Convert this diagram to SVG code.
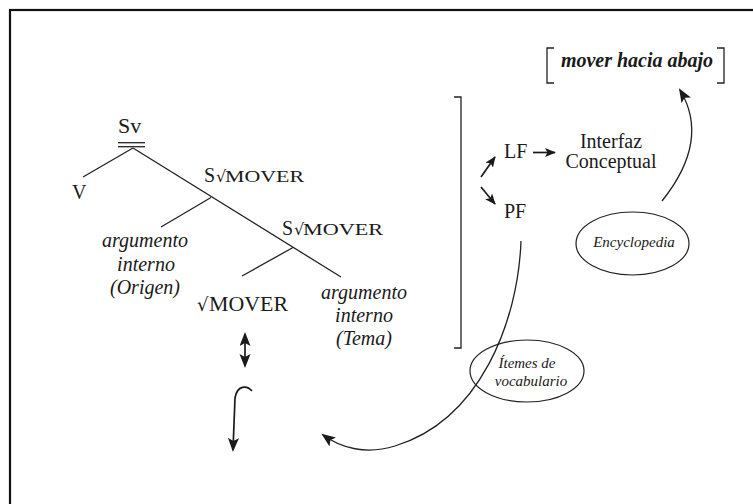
<svg xmlns="http://www.w3.org/2000/svg" width="753" height="504" viewBox="0 0 753 504">
  <style>
    text { font-family: "Liberation Serif", "DejaVu Serif", serif; fill: #1a1a1a; }
    .cat { font-size: 22px; }
    .rad { font-family: "DejaVu Serif", "Liberation Serif", serif; }
    .it { font-style: italic; font-size: 20px; text-anchor: middle; }
    .sm { font-style: italic; font-size: 15px; text-anchor: middle; }
    .mid { text-anchor: middle; }
    .ln { fill: none; stroke: #222; stroke-width: 1.3; }
    .arr { fill: none; stroke: #1a1a1a; stroke-width: 1.7; }
    .oval { fill: none; stroke: #222; stroke-width: 1.2; }
  </style>
  <defs>
    <marker id="head" markerUnits="userSpaceOnUse" markerWidth="15" markerHeight="12" refX="12" refY="5.5" orient="auto-start-reverse">
      <path d="M0,0 L14,5.5 L0,11 L3,5.5 z" fill="#1a1a1a"/>
    </marker>
    <marker id="headS" markerUnits="userSpaceOnUse" markerWidth="12" markerHeight="10" refX="10" refY="4.5" orient="auto">
      <path d="M0,0 L11,4.5 L0,9 L2.5,4.5 z" fill="#1a1a1a"/>
    </marker>
  </defs>

  <rect width="753" height="504" fill="#ffffff"/>
  <!-- frame (only top and left edges fall inside the canvas) -->
  <rect x="10" y="10" width="780" height="520" fill="none" stroke="#111" stroke-width="2.2"/>

  <g id="connectors">
    <!-- tree branches -->
    <line class="ln" x1="118" y1="142.7" x2="145" y2="142.7"/>
    <line class="ln" x1="118" y1="146.7" x2="145" y2="146.7"/>
    <line class="ln" x1="133" y1="148" x2="83" y2="177"/>
    <line class="ln" x1="133" y1="148" x2="341" y2="277"/>
    <line class="ln" x1="211" y1="197.5" x2="161" y2="227"/>
    <line class="ln" x1="293" y1="247.5" x2="242" y2="276"/>
    <!-- double arrow under the root -->
    <line class="arr" x1="245" y1="334" x2="245" y2="366" marker-start="url(#head)" marker-end="url(#head)"/>
    <!-- hook arrow -->
    <path class="arr" d="M252,391 C247,385 237,385 235,398 L233,450" marker-end="url(#head)"/>
    <!-- LF / PF split -->
    <line class="arr" x1="481" y1="177" x2="495" y2="157" marker-end="url(#headS)"/>
    <line class="arr" x1="481" y1="187" x2="495" y2="204" marker-end="url(#headS)"/>
    <line class="arr" x1="533" y1="152.5" x2="555" y2="152.5" marker-end="url(#headS)"/>
    <!-- encyclopedia to meaning -->
    <path class="ln" d="M662,201 C690,166 703,128 680,90" marker-end="url(#head)"/>
    <!-- PF through vocabulary items back down -->
    <path class="ln" d="M521,241 C518,322 480,420 395,446 C366,455 341,448 323,435" marker-end="url(#head)"/>
  </g>

  <g id="node-sv">
    <text class="cat" x="118" y="133">Sv</text>
  </g>
  <g id="node-v">
    <text x="72" y="199" font-size="20">V</text>
  </g>
  <g id="node-sroot-1">
    <text x="204" y="182" font-size="20">S</text>
    <text class="rad" x="216" y="182" font-size="16">√</text>
    <text x="225" y="182" font-size="16.5" textLength="79" lengthAdjust="spacingAndGlyphs">MOVER</text>
  </g>
  <g id="node-sroot-2">
    <text x="282" y="235" font-size="20">S</text>
    <text class="rad" x="294" y="235" font-size="16">√</text>
    <text x="303" y="235" font-size="16.5" textLength="80" lengthAdjust="spacingAndGlyphs">MOVER</text>
  </g>
  <g id="node-arg-origen">
    <text class="it" x="145" y="247">argumento</text>
    <text class="it" x="146" y="271">interno</text>
    <text class="it" x="145" y="294">(Origen)</text>
  </g>
  <g id="node-root">
    <text class="rad" x="197" y="311" font-size="18">√</text>
    <text x="209" y="311" font-size="21" textLength="79" lengthAdjust="spacingAndGlyphs">MOVER</text>
  </g>
  <g id="node-arg-tema">
    <text class="it" x="364" y="299">argumento</text>
    <text class="it" x="364" y="322">interno</text>
    <text class="it" x="364" y="345">(Tema)</text>
  </g>

  <g id="node-bracket">
    <path class="ln" d="M454,97 L461,97 L461,348 L454,348"/>
  </g>
  <g id="node-lf">
    <text x="504" y="158" font-size="20">LF</text>
  </g>
  <g id="node-pf">
    <text x="504" y="218" font-size="20">PF</text>
  </g>
  <g id="node-interfaz">
    <text class="mid" x="611" y="148" font-size="20">Interfaz</text>
    <text class="mid" x="611" y="168" font-size="20">Conceptual</text>
  </g>
  <g id="node-meaning">
    <path class="ln" d="M554,48 L547,48 L547,83 L554,83"/>
    <path class="ln" d="M717,48 L724,48 L724,83 L717,83"/>
    <text x="637" y="67" font-size="20" font-weight="bold" font-style="italic" text-anchor="middle">mover hacia abajo</text>
  </g>
  <g id="node-encyclopedia">
    <ellipse class="oval" cx="632.5" cy="243.5" rx="56.5" ry="31.5"/>
    <text class="sm" x="634" y="247">Encyclopedia</text>
  </g>
  <g id="node-items">
    <ellipse class="oval" cx="527" cy="371" rx="57" ry="31"/>
    <text class="sm" x="527" y="368">Ítemes de</text>
    <text class="sm" x="531" y="386">vocabulario</text>
  </g>
</svg>
